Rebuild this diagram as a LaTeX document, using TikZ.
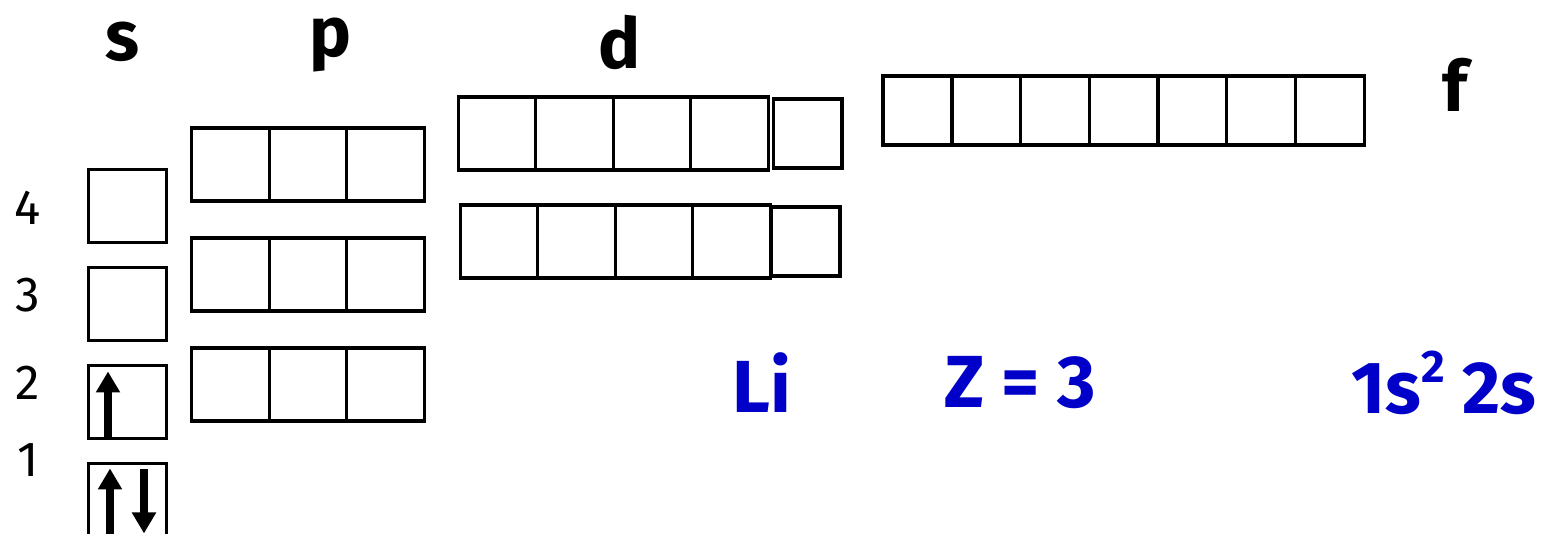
\documentclass[tikz,border=0pt]{standalone}
\usepackage{fontspec}
\setmainfont{Fira Sans}
\usetikzlibrary{arrows.meta,positioning}
\definecolor{elecblue}{RGB}{0,0,200}

\begin{document}
\begin{tikzpicture}[x=0.02cm,y=-0.02cm,
  orb/.style={draw,line width=1.9pt,minimum width=1.55cm,minimum height=1.46cm,inner sep=0pt,outer sep=0pt},
  orbf/.style={orb,minimum width=1.375cm,minimum height=1.38cm},
  subl/.style={font=\fontsize{40}{40}\selectfont\bfseries},
  nlab/.style={font=\fontsize{28}{28}\selectfont},
  info/.style={font=\fontsize{42}{42}\selectfont\bfseries,text=elecblue},
  spin/.style={line width=4pt,-{Triangle[length=0.42cm,width=0.46cm]}}]
\useasboundingbox (0,0) rectangle (1548,534);
% shell numbers
\node[nlab] (n4) at (28,208) {4};
\node[nlab] (n3) at (28,295) {3};
\node[nlab] (n2) at (28,383) {2};
\node[nlab] (n1) at (28,460) {1};
% subshell letters
\node[subl] (ls) at (122,42) {s};
\node[subl] (lp) at (330,45) {p};
\node[subl] (ld) at (620,42) {d};
\node[subl] (lf) at (1455,85) {f};
% s orbitals
\node[orb] (s4) at (127.5,206) {};
\node[orb,below=0.5cm of s4] (s3) {};
\node[orb,below=0.5cm of s3] (s2) {};
\node[orb,below=0.5cm of s2] (s1) {};
% p orbitals
\node[orb] (p4a) at (230.5,164.5) {};
\node[orb,right=0pt of p4a] (p4b) {};
\node[orb,right=0pt of p4b] (p4c) {};
\node[orb,below=0.74cm of p4a] (p3a) {};
\node[orb,right=0pt of p3a] (p3b) {};
\node[orb,right=0pt of p3b] (p3c) {};
\node[orb,below=0.74cm of p3a] (p2a) {};
\node[orb,right=0pt of p2a] (p2b) {};
\node[orb,right=0pt of p2b] (p2c) {};
% d orbitals
\node[orb] (d4a) at (497,133.5) {};
\node[orb,right=0pt of d4a] (d4b) {};
\node[orb,right=0pt of d4b] (d4c) {};
\node[orb,right=0pt of d4c] (d4d) {};
\node[orbf,right=0.1cm of d4d] (d4e) {};
\node[orb] (d3a) at (499,241.5) {};
\node[orb,right=0pt of d3a] (d3b) {};
\node[orb,right=0pt of d3b] (d3c) {};
\node[orb,right=0pt of d3c] (d3d) {};
\node[orbf,right=0.02cm of d3d] (d3e) {};
% f orbitals
\node[orbf] (f1) at (917.5,110.5) {};
\foreach \i [count=\j from 1] in {2,...,7}
  \node[orbf,right=0pt of f\j] (f\i) {};
% electrons
\draw[spin] ([xshift=-0.39cm]s2.south) -- ([xshift=-0.39cm,yshift=-0.12cm]s2.north);
\draw[spin] ([xshift=-0.35cm]s1.south) -- ([xshift=-0.35cm,yshift=-0.1cm]s1.north);
\draw[spin] ([xshift=0.33cm,yshift=-0.12cm]s1.north) -- ([xshift=0.33cm,yshift=0.06cm]s1.south);
% element info
\node[info] (elem) at (762,383) {Li};
\node[info] (znum) at (1020,383) {Z = 3};
\node[info] (conf) at (1444,383) {1s\raisebox{0.42em}{\fontsize{26}{26}\selectfont 2} 2s};
\end{tikzpicture}
\end{document}
